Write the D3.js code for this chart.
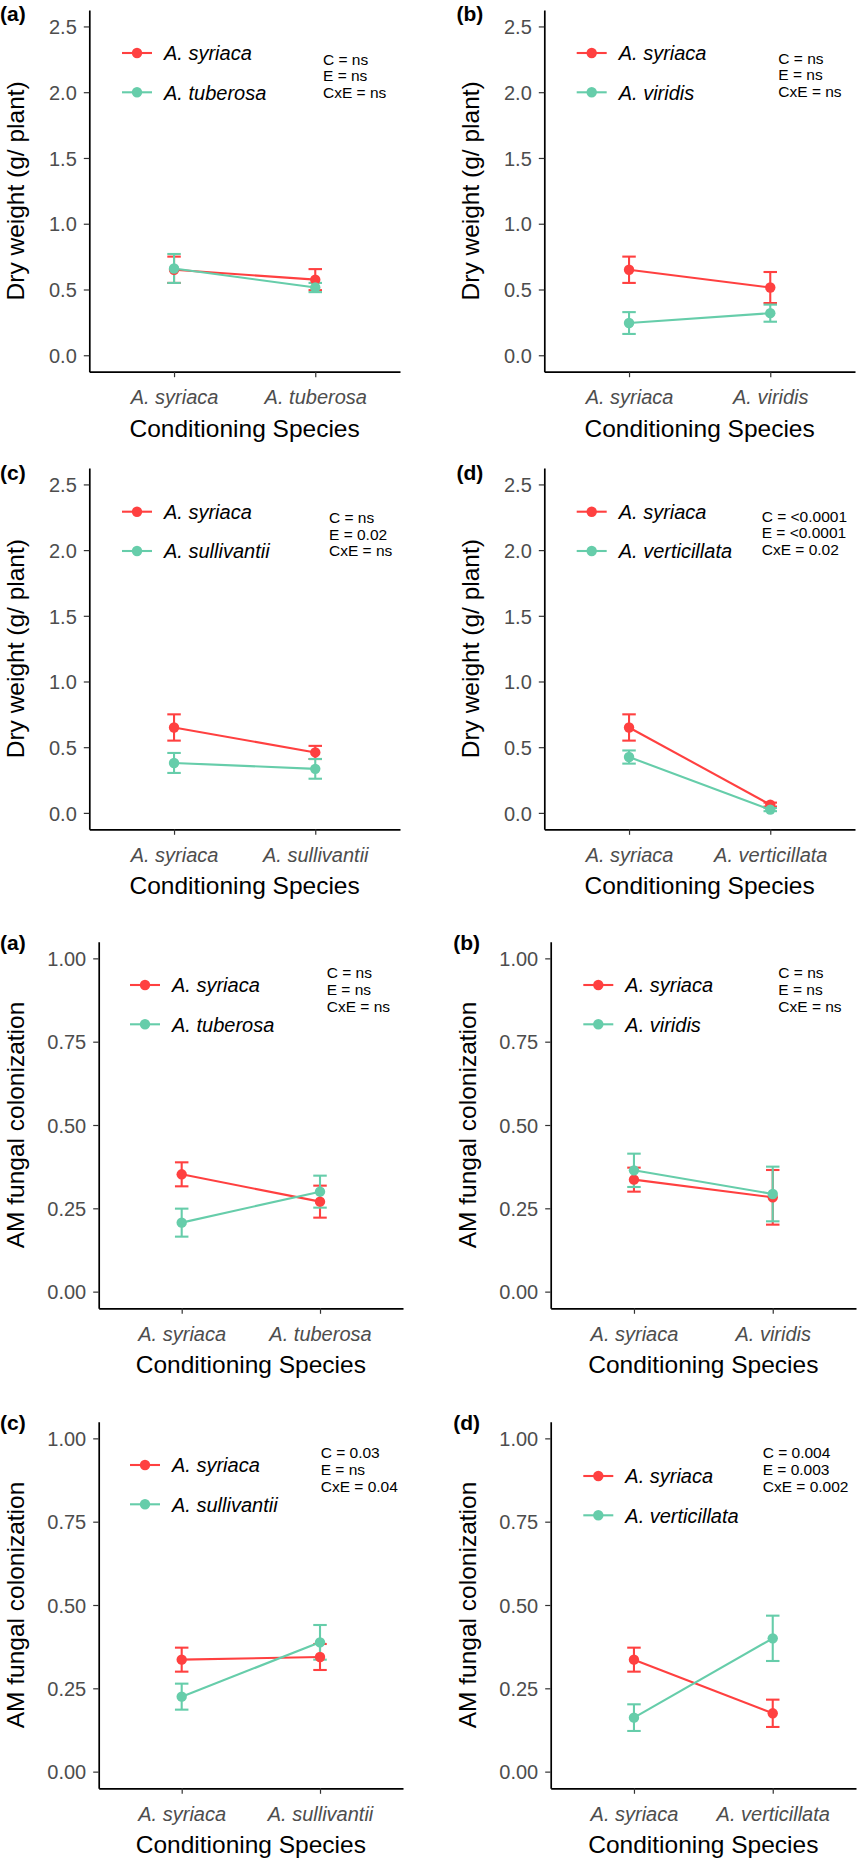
<!DOCTYPE html>
<html>
<head>
<meta charset="utf-8">
<script src="https://cdn.jsdelivr.net/npm/d3@7"></script>
<style>
  html, body { margin: 0; padding: 0; background: #fff; }
  svg { display: block; font-family: "Liberation Sans", Arial, Helvetica, sans-serif; }
</style>
</head>
<body>
<svg id="chart" width="858" height="1861"></svg>
<script>
// ---------------- DATA ----------------
const conditioningSpecies = [
  ["A. syriaca", "A. tuberosa"],
  ["A. syriaca", "A. viridis"],
  ["A. syriaca", "A. sullivantii"],
  ["A. syriaca", "A. verticillata"]
];
const seriesNames = [
  ["A. syriaca", "A. tuberosa"],
  ["A. syriaca", "A. viridis"],
  ["A. syriaca", "A. sullivantii"],
  ["A. syriaca", "A. verticillata"]
];
const panelLabels = ["(a)", "(b)", "(c)", "(d)", "(a)", "(b)", "(c)", "(d)"];

// Dry weight (g/ plant): means and standard errors, per panel [at syriaca, at other]
const dryWeightSyriaca   = [[0.65, 0.575], [0.65, 0.515], [0.65, 0.46], [0.65, 0.063]];
const dryWeightSyriacaSE = [[0.10, 0.08],  [0.10, 0.118], [0.10, 0.05], [0.10, 0.015]];
const dryWeightOther     = [[0.66, 0.515], [0.245, 0.32], [0.38, 0.335], [0.425, 0.025]];
const dryWeightOtherSE   = [[0.11, 0.035], [0.083, 0.065], [0.076, 0.075], [0.05, 0.012]];

// AM fungal colonization: means and standard errors
const amfSyriaca   = [[0.352, 0.27], [0.336, 0.283], [0.336, 0.344], [0.336, 0.175]];
const amfSyriacaSE = [[0.036, 0.048], [0.036, 0.082], [0.036, 0.039], [0.036, 0.041]];
const amfOther     = [[0.207, 0.30], [0.364, 0.293], [0.225, 0.388], [0.162, 0.40]];
const amfOtherSE   = [[0.042, 0.048], [0.05, 0.082], [0.039, 0.052], [0.04, 0.068]];

const statsLines = [
  ["C = ns", "E = ns", "CxE = ns"],
  ["C = ns", "E = ns", "CxE = ns"],
  ["C = ns", "E = 0.02", "CxE = ns"],
  ["C = <0.0001", "E = <0.0001", "CxE = 0.02"],
  ["C = ns", "E = ns", "CxE = ns"],
  ["C = ns", "E = ns", "CxE = ns"],
  ["C = 0.03", "E = ns", "CxE = 0.04"],
  ["C = 0.004", "E = 0.003", "CxE = 0.002"]
];

const dryTicks = [0, 0.5, 1.0, 1.5, 2.0, 2.5];
const amfTicks = [0, 0.25, 0.5, 0.75, 1.0];
const dryDomain = [-0.125, 2.625];
const amfDomain = [-0.05, 1.05];
const dryTitle = "Dry weight (g/ plant)";
const amfTitle = "AM fungal colonization";
const xTitle = "Conditioning Species";

// ---------------- LAYOUT ----------------
const layout = [
  {left: 89.3,  right: 400, top: 10,    bottom: 371.7,  labX: 0,     labY: 21,   legX: 137,   legY: 53,   stX: 323,   stY: 59,    yTitleOff: 65},
  {left: 544.3, right: 855, top: 10,    bottom: 371.7,  labX: 456.5, labY: 21,   legX: 591.7, legY: 53,   stX: 778.3, stY: 58,    yTitleOff: 65},
  {left: 89.3,  right: 400, top: 468,   bottom: 829.3,  labX: 0,     labY: 480,  legX: 137,   legY: 511.7, stX: 329,  stY: 517.3, yTitleOff: 65},
  {left: 544.3, right: 855, top: 468,   bottom: 829.3,  labX: 456.5, labY: 480,  legX: 591.7, legY: 511.7, stX: 761.7, stY: 516, yTitleOff: 65},
  {left: 98.7,  right: 403, top: 941.7, bottom: 1308.3, labX: 0,     labY: 950,  legX: 145,   legY: 985,  stX: 326.7, stY: 972.7, yTitleOff: 74.5},
  {left: 550.7, right: 856, top: 941.7, bottom: 1308.3, labX: 453.3, labY: 950,  legX: 598.3, legY: 985,  stX: 778.3, stY: 972.7, yTitleOff: 74.5},
  {left: 98.7,  right: 403, top: 1421.7, bottom: 1788.3, labX: 0,    labY: 1430, legX: 145,   legY: 1465, stX: 320.7, stY: 1452.7, yTitleOff: 74.5},
  {left: 550.7, right: 856, top: 1421.7, bottom: 1788.3, labX: 453.3, labY: 1430, legX: 598.3, legY: 1476, stX: 762.7, stY: 1452.7, yTitleOff: 74.5}
];

const colors = ["#FF4040", "#66CDAA"];
const FONT = '"Liberation Sans", Arial, Helvetica, sans-serif';

const svg = d3.select("#chart");
svg.append("rect").attr("width", 858).attr("height", 1861).attr("fill", "#fff");

function drawPanel(i) {
  const L = layout[i];
  const k = i % 4;
  const isDry = i < 4;
  const cats = conditioningSpecies[k];
  const means = isDry ? [dryWeightSyriaca[k], dryWeightOther[k]] : [amfSyriaca[k], amfOther[k]];
  const ses = isDry ? [dryWeightSyriacaSE[k], dryWeightOtherSE[k]] : [amfSyriacaSE[k], amfOtherSE[k]];

  const y = d3.scaleLinear().domain(isDry ? dryDomain : amfDomain).range([L.bottom, L.top]);
  const x = d3.scalePoint().domain(cats).range([L.left, L.right]).padding(0.6);

  const g = svg.append("g");

  // Y axis
  const yAxis = g.append("g")
    .attr("transform", `translate(${L.left},0)`)
    .call(d3.axisLeft(y)
      .tickValues(isDry ? dryTicks : amfTicks)
      .tickFormat(d3.format(isDry ? ".1f" : ".2f"))
      .tickSizeInner(5.5).tickSizeOuter(0).tickPadding(7));
  // X axis
  const xAxis = g.append("g")
    .attr("transform", `translate(0,${L.bottom})`)
    .call(d3.axisBottom(x).tickSizeInner(5.5).tickSizeOuter(0).tickPadding(8));

  [yAxis, xAxis].forEach(ax => {
    ax.attr("font-family", null).attr("font-size", null);
    ax.select(".domain").attr("stroke", "#000").attr("stroke-width", 1.7);
    ax.selectAll(".tick line").attr("stroke", "#333").attr("stroke-width", 1.2);
    ax.selectAll(".tick text").attr("fill", "#4D4D4D").style("font-family", FONT).style("font-size", "20px");
  });
  yAxis.selectAll(".tick text").attr("dy", "0.36em");
  xAxis.selectAll(".tick text").style("font-style", "italic").attr("dy", "0.95em");

  // Y axis title
  g.append("text")
    .attr("transform", `translate(${L.left - L.yTitleOff},${(L.top + L.bottom) / 2}) rotate(-90)`)
    .attr("text-anchor", "middle")
    .style("font-size", "24.5px").attr("fill", "#000")
    .text(isDry ? dryTitle : amfTitle);
  // X axis title
  g.append("text")
    .attr("x", (L.left + L.right) / 2).attr("y", L.bottom + 65)
    .attr("text-anchor", "middle")
    .style("font-size", "24.5px").attr("fill", "#000")
    .text(xTitle);

  // Panel label
  g.append("text")
    .attr("x", L.labX).attr("y", L.labY)
    .style("font-size", "21px").style("font-weight", "bold").attr("fill", "#000")
    .text(panelLabels[i]);

  // Error bars, lines, points
  const capW = 13.5;
  for (let s = 0; s < 2; s++) {
    const eg = g.append("g").attr("stroke", colors[s]).attr("stroke-width", 2.1).attr("fill", "none");
    cats.forEach((c, j) => {
      const m = means[s][j], e = ses[s][j];
      const cx = x(c);
      eg.append("line").attr("x1", cx).attr("x2", cx).attr("y1", y(m - e)).attr("y2", y(m + e));
      eg.append("line").attr("x1", cx - capW / 2).attr("x2", cx + capW / 2).attr("y1", y(m - e)).attr("y2", y(m - e));
      eg.append("line").attr("x1", cx - capW / 2).attr("x2", cx + capW / 2).attr("y1", y(m + e)).attr("y2", y(m + e));
    });
  }
  const line = d3.line().x(d => x(d.c)).y(d => y(d.m));
  for (let s = 0; s < 2; s++) {
    const pts = cats.map((c, j) => ({c: c, m: means[s][j]}));
    g.append("path").datum(pts).attr("d", line)
      .attr("stroke", colors[s]).attr("stroke-width", 2.1).attr("fill", "none");
  }
  for (let s = 0; s < 2; s++) {
    cats.forEach((c, j) => {
      g.append("circle").attr("cx", x(c)).attr("cy", y(means[s][j])).attr("r", 5.2).attr("fill", colors[s]);
    });
  }

  // Legend
  const legSpacing = 39.3;
  seriesNames[k].forEach((name, s) => {
    const ly = L.legY + s * legSpacing;
    g.append("line").attr("x1", L.legX - 15).attr("x2", L.legX + 15).attr("y1", ly).attr("y2", ly)
      .attr("stroke", colors[s]).attr("stroke-width", 2.1);
    g.append("circle").attr("cx", L.legX).attr("cy", ly).attr("r", 5.2).attr("fill", colors[s]);
    g.append("text").attr("x", L.legX + 27).attr("y", ly).attr("dy", "0.36em")
      .style("font-size", "20px").style("font-style", "italic").attr("fill", "#000")
      .text(name);
  });

  // Stats annotation
  statsLines[i].forEach((t, r) => {
    g.append("text").attr("x", L.stX).attr("y", L.stY + r * 16.7).attr("dy", "0.36em")
      .style("font-size", "15.5px").attr("fill", "#000")
      .text(t);
  });
}

for (let i = 0; i < 8; i++) drawPanel(i);
</script>
</body>
</html>
